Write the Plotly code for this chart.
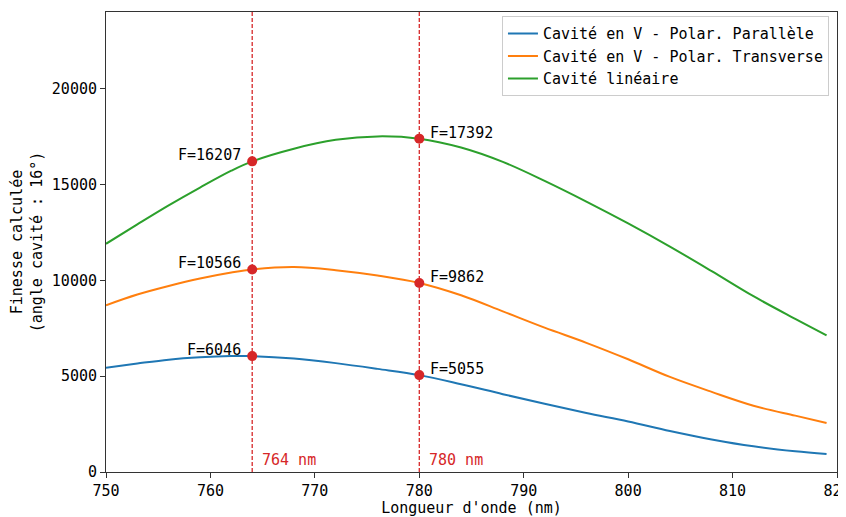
import plotly.graph_objects as go

FONT = "DejaVu Sans Mono"

wavelengths = [750, 753, 756, 759, 762, 764, 768, 772, 776, 780, 784, 788, 792, 796,
               800, 804, 808, 812, 816, 819]
finesse_v_par = [5440, 5660, 5860, 5985, 6050, 6046, 5920, 5680, 5380, 5055, 4580, 4060,
                 3560, 3080, 2640, 2140, 1700, 1340, 1080, 940]
finesse_v_trans = [8700, 9260, 9706, 10094, 10406, 10566, 10690, 10530, 10250, 9862, 9220,
                   8380, 7530, 6740, 5880, 4960, 4180, 3460, 2940, 2560]
finesse_lin = [11906, 12920, 13910, 14840, 15720, 16207, 16870, 17330, 17510, 17392, 16930,
               16180, 15190, 14110, 12970, 11760, 10480, 9170, 7990, 7130]

series_names = ["Cavité en V - Polar. Parallèle", "Cavité en V - Polar. Transverse",
                "Cavité linéaire"]
series_colors = ["#1f77b4", "#ff7f0e", "#2ca02c"]

marker_wl = [764, 780]
marker_vals = {
    764: [6046, 10566, 16207],
    780: [5055, 9862, 17392],
}
wl_labels = ["764 nm", "780 nm"]

x_ticks = [750, 760, 770, 780, 790, 800, 810, 820]
y_ticks = [0, 5000, 10000, 15000, 20000]

fig = go.Figure()
for name, vals, col in zip(series_names, [finesse_v_par, finesse_v_trans, finesse_lin], series_colors):
    fig.add_trace(go.Scatter(x=wavelengths, y=vals, mode="lines", name=name,
                             line=dict(color=col, width=2, shape="spline", smoothing=1.0)))

RED = "#d62728"
for wl, lab in zip(marker_wl, wl_labels):
    fig.add_shape(type="line", x0=wl, x1=wl, y0=0, y1=1, xref="x", yref="paper",
                  line=dict(color=RED, width=1.3, dash="4px,2px"), layer="below")
    fig.add_annotation(x=wl, y=0, xref="x", yref="paper", text=lab, showarrow=False,
                       xanchor="left", yanchor="bottom", xshift=8, yshift=1,
                       font=dict(family=FONT, size=15, color=RED))
    vals = marker_vals[wl]
    fig.add_trace(go.Scatter(x=[wl] * len(vals), y=vals, mode="markers", showlegend=False,
                             marker=dict(color=RED, size=10)))
    left = wl == marker_wl[0]
    for v in vals:
        fig.add_annotation(x=wl, y=v, text=f"F={v}", showarrow=False,
                           xanchor="right" if left else "left", yanchor="middle",
                           xshift=-9 if left else 9, yshift=6,
                           font=dict(family=FONT, size=15, color="black"))

axis_common = dict(showline=True, linecolor="#333", linewidth=1, mirror=True,
                   ticks="outside", ticklen=5, tickwidth=1, tickcolor="#333",
                   showgrid=False, zeroline=False, automargin=False,
                   ticklabeloverflow="allow",
                   tickfont=dict(family=FONT, size=15, color="black"))

fig.update_layout(
    width=838, height=509,
    margin=dict(l=98, r=9, t=4, b=45),
    paper_bgcolor="white", plot_bgcolor="white",
    font=dict(family=FONT, size=15, color="black"),
    xaxis=dict(range=[750, 820], tickvals=x_ticks, ticktext=[str(t) for t in x_ticks],
               title=dict(text="Longueur d'onde (nm)", font=dict(family=FONT, size=15), standoff=4),
               **axis_common),
    yaxis=dict(range=[0, 24000], tickvals=y_ticks, ticktext=[str(t) for t in y_ticks],
               title=dict(text="Finesse calculée<br>(angle cavité : 16°)",
                          font=dict(family=FONT, size=15), standoff=11),
               **axis_common),
    legend=dict(x=0.989, y=0.991, xanchor="right", yanchor="top",
                bgcolor="rgba(255,255,255,0.8)", bordercolor="#cccccc", borderwidth=1,
                font=dict(family=FONT, size=15, color="black")),
    showlegend=True,
)

fig.write_html("out.html")
